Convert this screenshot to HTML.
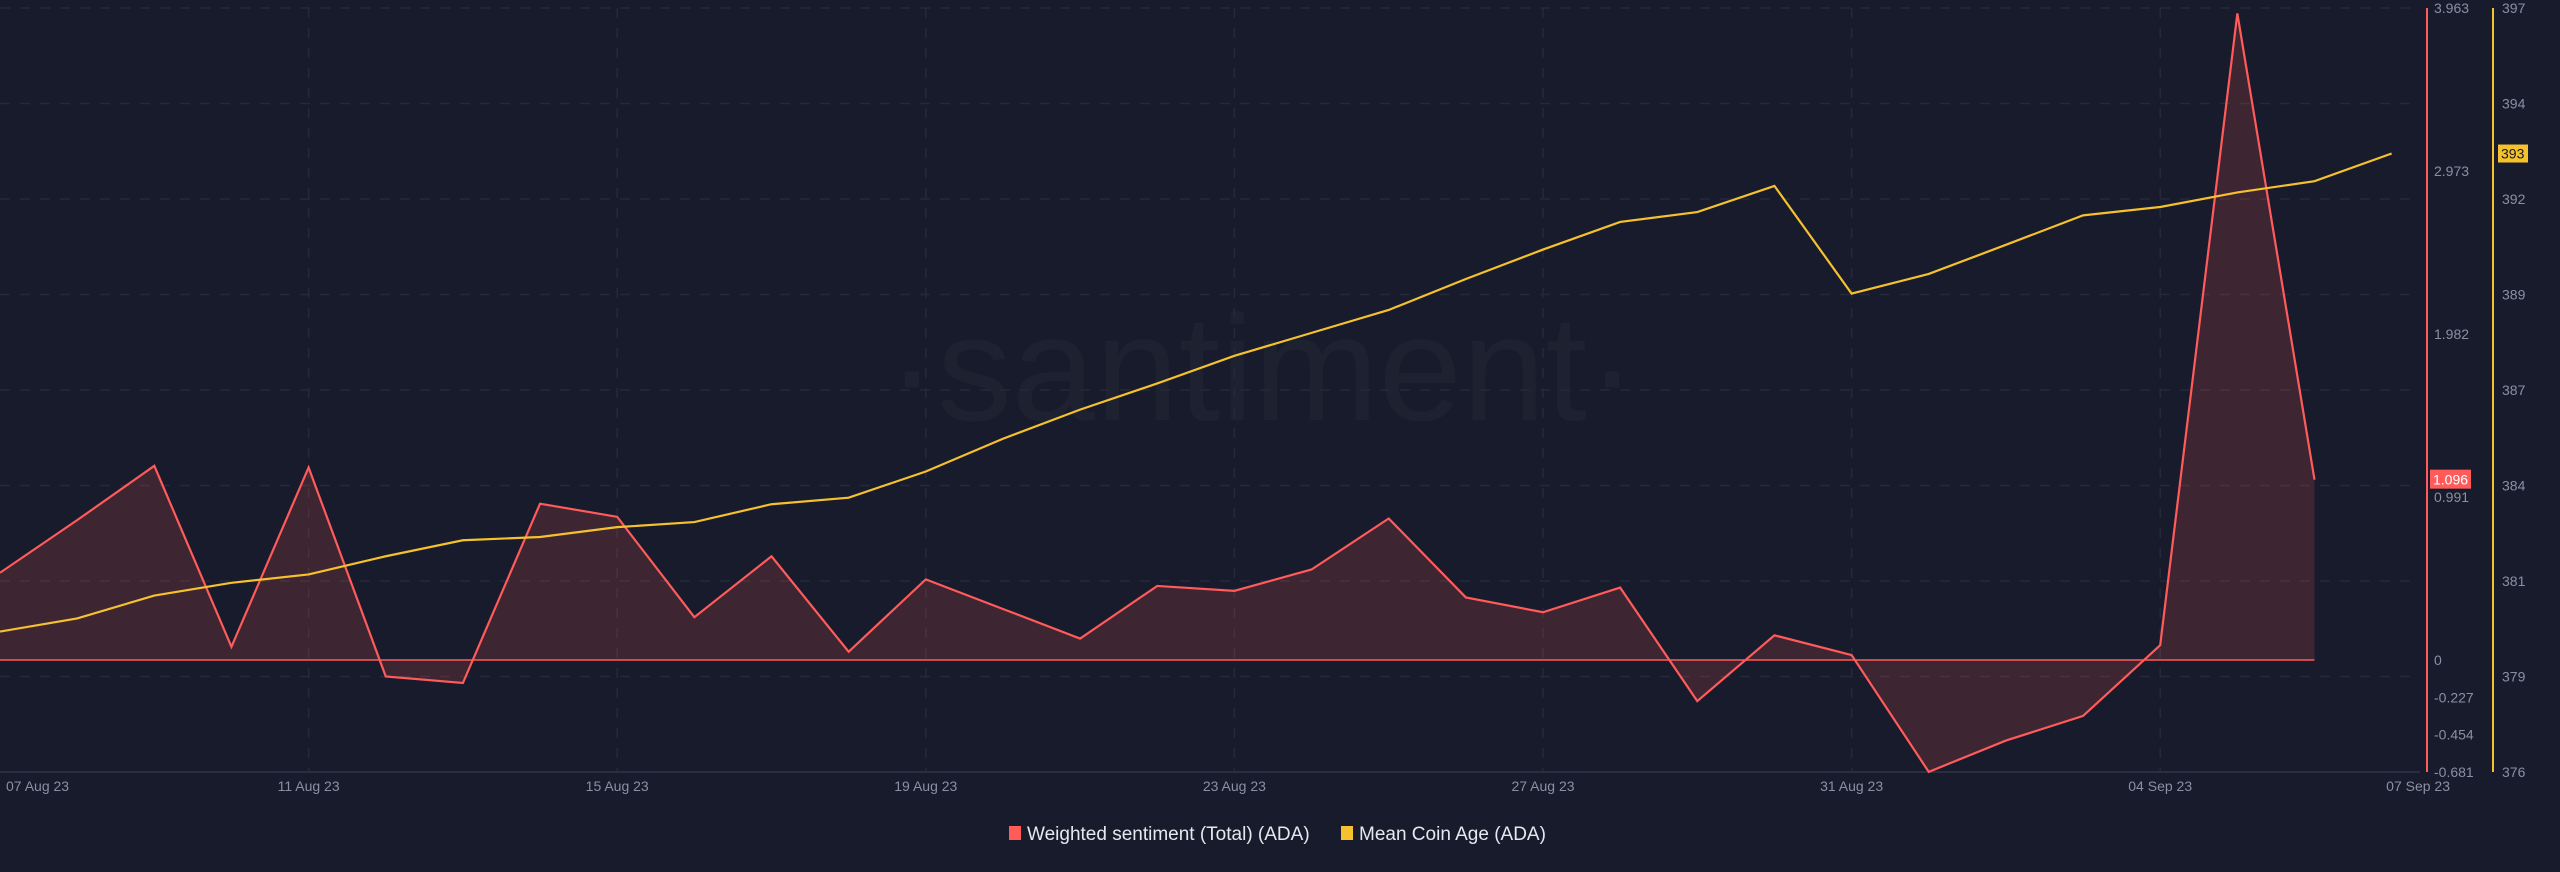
<!DOCTYPE html>
<html><head><meta charset="utf-8"><style>
html,body{margin:0;padding:0;background:#181b2b;}
body{width:2560px;height:867px;overflow:hidden;font-family:"Liberation Sans",sans-serif;}
</style></head><body>
<svg id="chart" width="2560" height="867" xmlns="http://www.w3.org/2000/svg">
<rect width="2560" height="867" fill="#181b2b"/>
<text x="1262" y="420" text-anchor="middle" font-size="150" fill="#ffffff" fill-opacity="0.028" font-family="Liberation Sans, sans-serif">·santiment·</text>
<g id="grid"></g><g id="series"></g><g id="axes"></g>
<g>
<rect x="1009" y="826" width="12" height="14" fill="#ff5b5b"/>
<text x="1027" y="840" font-size="19" fill="#e6e8ef">Weighted sentiment (Total) (ADA)</text>
<rect x="1341" y="826" width="12" height="14" fill="#f5c12e"/>
<text x="1359" y="840" font-size="19" fill="#e6e8ef">Mean Coin Age (ADA)</text>
</g>
</svg>
<script>
const dateLabels=["07 Aug 23","11 Aug 23","15 Aug 23","19 Aug 23","23 Aug 23","27 Aug 23","31 Aug 23","04 Sep 23","07 Sep 23"];
const dateLabelDays=[0,4,8,12,16,20,24,28,31];
const sentiment=[0.53,0.85,1.18,0.08,1.17,-0.10,-0.14,0.95,0.87,0.26,0.63,0.05,0.49,0.31,0.13,0.45,0.42,0.55,0.86,0.38,0.29,0.44,-0.25,0.15,0.03,-0.68,-0.49,-0.34,0.09,3.93,1.096];
const coinAge=[379.86,380.22,380.85,381.2,381.43,381.93,382.37,382.46,382.73,382.87,383.36,383.54,384.26,385.16,385.96,386.68,387.44,388.07,388.70,389.55,390.36,391.12,391.39,392.11,389.15,389.69,390.49,391.30,391.53,391.93,392.24,393.0];
const sentTicks=[3.963,2.973,1.982,0.991,0,-0.227,-0.454,-0.681];
const ageTickVals=[397,394.375,391.75,389.125,386.5,383.875,381.25,378.625,376];
const ageTickLabels=["397","394","392","389","387","384","381","379","376"];

const NS="http://www.w3.org/2000/svg";
const yTop=8,yBot=772,dayW=77.15,x0=0;
const X=d=>x0+d*dayW;
const YS=v=>yTop+(3.963-v)/(3.963+0.681)*(yBot-yTop);
const YA=v=>yTop+(397-v)/(397-376)*(yBot-yTop);
function mk(tag,attrs,parent){const e=document.createElementNS(NS,tag);for(const k in attrs)e.setAttribute(k,attrs[k]);parent.appendChild(e);return e;}
const grid=document.getElementById('grid'),series=document.getElementById('series'),axes=document.getElementById('axes');
ageTickVals.forEach((v,i)=>{if(i===ageTickVals.length-1)return;
 const l=mk('line',{x1:0,x2:2420,y1:YA(v),y2:YA(v),stroke:'#252939','stroke-dasharray':'10 10','stroke-width':1.5},grid);
 
 });
dateLabelDays.forEach((d,i)=>{if(i===0||i===dateLabelDays.length-1)return;
 const l=mk('line',{x1:X(d),x2:X(d),y1:yTop,y2:yBot,stroke:'#252939','stroke-dasharray':'10 10','stroke-width':1.5},grid);
 
 });
const base=mk('line',{x1:0,x2:2420,y1:yBot,y2:yBot,stroke:'#2a2e40','stroke-width':2},grid);


const z=YS(0);
let pts=sentiment.map((v,i)=>X(i)+','+YS(v)).join(' ');
const area=mk('polygon',{points:X(0)+','+z+' '+pts+' '+X(sentiment.length-1)+','+z,fill:'#ff5b5b','fill-opacity':0.17},series);


const zl=mk('line',{x1:X(0),x2:X(sentiment.length-1),y1:z,y2:z,stroke:'#ff5b5b','stroke-width':1.5},series);


const sl=mk('polyline',{points:pts,fill:'none',stroke:'#ff5b5b','stroke-width':2.2},series);


const al=mk('polyline',{points:coinAge.map((v,i)=>X(i)+','+YA(v)).join(' '),fill:'none',stroke:'#f5c12e','stroke-width':2.2},series);


const ra=mk('line',{x1:2427,x2:2427,y1:yTop,y2:yBot,stroke:'#ff5b5b','stroke-width':2},axes);


const ya=mk('line',{x1:2493,x2:2493,y1:yTop,y2:yBot,stroke:'#f5c12e','stroke-width':2},axes);


sentTicks.forEach(v=>{const t=mk('text',{x:2434,y:YS(v)+5,'font-size':14,fill:'#8a8fa3'},axes);t.textContent=v===0?'0':String(v);
 
 });
ageTickVals.forEach((v,i)=>{const t=mk('text',{x:2502,y:YA(v)+5,'font-size':14,fill:'#8a8fa3'},axes);t.textContent=ageTickLabels[i];
 
 });
dateLabels.forEach((s,i)=>{const d=dateLabelDays[i];let x=X(d),a='middle';if(i===0){x=6;a='start';}
 if(i===dateLabels.length-1){x=2450;a='end';}
 const t=mk('text',{x:x,y:791,'font-size':14,fill:'#8a8fa3','text-anchor':a},axes);t.textContent=s;
 
 });
const last=sentiment[sentiment.length-1];
const b1=mk('rect',{x:2430,y:YS(last)-10,width:41,height:19,fill:'#ff5b5b'},axes);


const bt1=mk('text',{x:2433,y:YS(last)+5,'font-size':14,fill:'#ffffff'},axes);bt1.textContent=String(last);


const lastA=coinAge[coinAge.length-1];
const b2=mk('rect',{x:2498,y:YA(lastA)-9,width:30,height:18,fill:'#f5c12e'},axes);


const bt2=mk('text',{x:2501,y:YA(lastA)+5,'font-size':14,fill:'#1a1a1a'},axes);bt2.textContent=String(Math.round(lastA));


</script>
</body></html>
